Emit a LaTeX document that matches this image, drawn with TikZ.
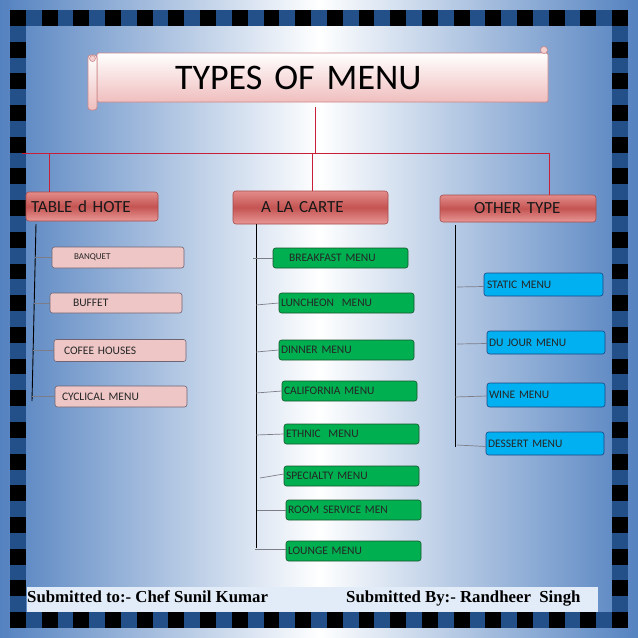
\documentclass[tikz,border=0pt]{standalone}
\usepackage{fontspec}
\setmainfont[WordSpace=0.75]{Carlito}
\newfontfamily\footfont{Liberation Serif}
\definecolor{bgblue}{RGB}{84,130,192}
\definecolor{chkblue}{RGB}{36,80,138}
\definecolor{cattop}{RGB}{226,140,138}
\definecolor{catmid}{RGB}{196,84,82}
\definecolor{catbot}{RGB}{232,152,150}
\definecolor{catline}{RGB}{165,75,75}
\definecolor{pinkfill}{RGB}{238,198,198}
\definecolor{pinkline}{RGB}{110,100,115}
\definecolor{grfill}{RGB}{0,176,80}
\definecolor{grline}{RGB}{25,85,45}
\definecolor{cyfill}{RGB}{0,176,240}
\definecolor{cyline}{RGB}{30,70,130}
\definecolor{footfill}{RGB}{226,236,248}
\definecolor{connred}{RGB}{200,30,55}
\definecolor{scrollbot}{RGB}{240,190,190}
\definecolor{scrollline}{RGB}{205,135,135}
\definecolor{branch}{RGB}{125,125,135}
\begin{document}
\begin{tikzpicture}[x=1pt,y=-1pt,
  catbox/.style={draw=catline, line width=0.6pt, rounded corners=3pt,
    top color=cattop, bottom color=catbot, middle color=catmid,
    inner ysep=0pt, align=left, font=\fontsize{17}{18}\selectfont, text=black!90},
  subbox/.style={rounded corners=2.5pt, line width=0.6pt, inner ysep=0pt,
    align=left, font=\fontsize{11.5}{12}\selectfont},
  pinkbox/.style={subbox, draw=pinkline, fill=pinkfill, text=black!85},
  greenbox/.style={subbox, draw=grline, fill=grfill, text=black!85},
  cyanbox/.style={subbox, draw=cyline, fill=cyfill, text=black!85},
  redconn/.style={draw=connred, line width=1.2pt},
  colline/.style={draw=black, line width=0.9pt},
  brline/.style={draw=branch, line width=0.7pt},
  foottext/.style={font=\footfont\bfseries\fontsize{16.8}{18}\selectfont, inner sep=0pt, anchor=base west}
]
\useasboundingbox (0,0) rectangle (638,638);
% background
\shade[left color=bgblue, right color=bgblue, middle color=white] (0,0) rectangle (638,638);
% checker frame
\def\s{15.846}
\fill[chkblue] (10,10) rectangle (628,25.846);
\fill[chkblue] (10,612.154) rectangle (628,628);
\fill[chkblue] (10,10) rectangle (25.846,628);
\fill[chkblue] (612.154,10) rectangle (628,628);
\foreach \i in {0,2,...,38}{
  \fill[black] ({10+\i*\s},10) rectangle ++(\s,\s);
  \fill[black] ({10+\i*\s},612.154) rectangle ++(\s,\s);
  \fill[black] (10,{10+\i*\s}) rectangle ++(\s,\s);
  \fill[black] (612.154,{10+\i*\s}) rectangle ++(\s,\s);
}
% footer
\fill[footfill] (27,587) rectangle (598,612);
\node[foottext] (ft1) at (27,602) {Submitted to:- Chef Sunil Kumar};
\node[foottext] (ft2) at (346,602) {Submitted By:- Randheer\ \ Singh};
% title scroll
\node[draw=scrollline, line width=0.7pt, rounded corners=2pt, top color=white, bottom color=scrollbot,
  minimum width=451pt, minimum height=49pt, inner xsep=78pt, inner ysep=0pt, text width=295pt,
  align=left, font=\fontsize{36}{38}\selectfont] (title) at (322.5,77.5) {TYPES OF MENU};
\draw[draw=scrollline, line width=0.7pt, rounded corners=3pt, top color=white, bottom color=scrollbot]
  (88,55) rectangle (97,110);
\draw[draw=scrollline, line width=0.6pt, fill=scrollbot!70] (92.5,58.5) circle (3);
\draw[draw=scrollline, line width=0.6pt, fill=scrollbot!70] (544,50) circle (3.5);
% category boxes
\node[catbox, minimum width=132pt, minimum height=29pt, inner xsep=5pt, text width=122pt] (tdh) at (92,206.5) {TABLE d HOTE};
\node[catbox, minimum width=155pt, minimum height=33pt, inner xsep=28pt, text width=99pt] (alc) at (310.5,207.5) {A LA CARTE};
\node[catbox, minimum width=156pt, minimum height=27pt, inner xsep=34pt, text width=88pt] (oth) at (518,208.5) {OTHER TYPE};
% red connectors
\coordinate (hub) at (315.5,153.5);
\coordinate (hl) at (22,153.5);
\coordinate (hr) at (550,153.5);
\coordinate (dl) at (49.5,153.5);
\coordinate (dm) at (312.5,153.5);
\coordinate (dr) at (549.5,153.5);
\draw[redconn] ([yshift=-5pt]title.south -| hub) -- (hub);
\draw[redconn] (hl) -- (hr);
\draw[redconn] (dl) -- (dl |- tdh.north);
\draw[redconn] (dm) -- (dm |- alc.north);
\draw[redconn] (dr) -- (dr |- oth.north);
% left column
\node[pinkbox, minimum width=132pt, minimum height=21pt, inner xsep=22pt, text width=88pt, font=\fontsize{9}{10}\selectfont] (banq) at (118,257.5) {BANQUET};
\node[pinkbox, minimum width=132pt, minimum height=20pt, inner xsep=23pt, text width=86pt] (buff) at (116,303) {BUFFET};
\node[pinkbox, minimum width=132pt, minimum height=22pt, inner xsep=10pt, text width=112pt] (cofe) at (120,350.5) {COFEE HOUSES};
\node[pinkbox, minimum width=132pt, minimum height=21pt, inner xsep=7pt, text width=118pt] (cycl) at (121,396.5) {CYCLICAL MENU};
\coordinate (lc1) at (36,224);
\coordinate (lc2) at (32,401);
\draw[colline] (lc1) -- (lc2);
\draw[brline] (35.3,257.5) -- (banq.west);
\draw[brline] (34.2,303) -- (buff.west);
\draw[brline] (33.1,350.5) -- (cofe.west);
\draw[brline] (32.1,396.5) -- (cycl.west);
% middle column
\node[greenbox, minimum width=135pt, minimum height=20pt, inner xsep=16pt, text width=103pt] (brk) at (340.5,258) {BREAKFAST MENU};
\node[greenbox, minimum width=135pt, minimum height=20pt, inner xsep=2pt, text width=131pt] (lun) at (346.5,303) {LUNCHEON\ \ MENU};
\node[greenbox, minimum width=135pt, minimum height=20pt, inner xsep=2pt, text width=131pt] (din) at (346.5,350) {DINNER MENU};
\node[greenbox, minimum width=135pt, minimum height=20pt, inner xsep=2pt, text width=131pt] (cal) at (349.5,391) {CALIFORNIA MENU};
\node[greenbox, minimum width=135pt, minimum height=20pt, inner xsep=2pt, text width=131pt] (eth) at (351.5,434) {ETHNIC\ \ MENU};
\node[greenbox, minimum width=135pt, minimum height=20pt, inner xsep=2pt, text width=131pt] (spe) at (351.5,476) {SPECIALTY MENU};
\node[greenbox, minimum width=135pt, minimum height=20pt, inner xsep=2pt, text width=131pt] (roo) at (353.5,510) {ROOM SERVICE MEN};
\node[greenbox, minimum width=135pt, minimum height=20pt, inner xsep=2pt, text width=131pt] (lou) at (353.5,551) {LOUNGE MENU};
\coordinate (mc1) at (256,224);
\coordinate (mc2) at (256,548);
\draw[colline] (mc1) -- (mc2);
\draw[brline] (253,258) -- (brk.west);
\draw[brline] (256,305) -- (lun.west);
\draw[brline] (256,352) -- (din.west);
\draw[brline] (256,393) -- (cal.west);
\draw[brline] (256,435) -- (eth.west);
\draw[brline] (260,478) -- ([yshift=2pt]spe.west);
\draw[brline] (257,510) -- (roo.west);
\draw[brline] (255,549) -- ([yshift=2pt]lou.west);
% right column
\node[cyanbox, minimum width=119pt, minimum height=23pt, inner xsep=3pt, text width=113pt] (sta) at (543.5,284.5) {STATIC MENU};
\node[cyanbox, minimum width=118pt, minimum height=23pt, inner xsep=2pt, text width=114pt] (duj) at (546,342.5) {DU JOUR MENU};
\node[cyanbox, minimum width=118pt, minimum height=24pt, inner xsep=2pt, text width=114pt] (win) at (546,395) {WINE MENU};
\node[cyanbox, minimum width=118pt, minimum height=23pt, inner xsep=2pt, text width=114pt] (des) at (545,443.5) {DESSERT MENU};
\coordinate (rc1) at (455,225);
\coordinate (rc2) at (455,447);
\draw[colline] (rc1) -- (rc2);
\draw[brline] (457,287) -- ([yshift=-2pt]sta.west);
\draw[brline] (457,344) -- ([yshift=-1pt]duj.west);
\draw[brline] (455,397) -- ([yshift=-1pt]win.west);
\draw[brline] (457,445) -- ([yshift=-3pt]des.west);
\end{tikzpicture}
\end{document}
